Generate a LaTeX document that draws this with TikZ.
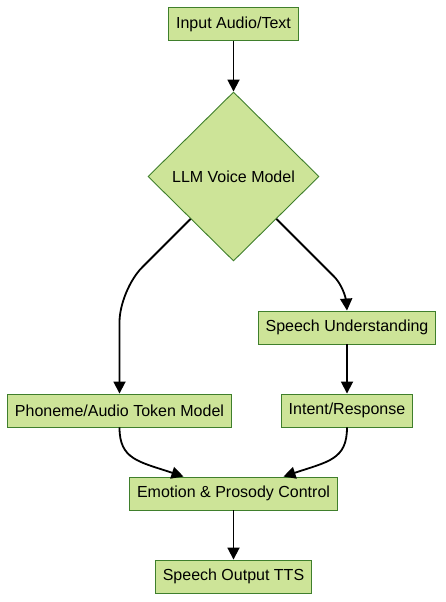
\documentclass[tikz,border=0pt]{standalone}
\usepackage{fontspec}
\setmainfont{Liberation Sans}
\usetikzlibrary{shapes.geometric,arrows.meta}
\definecolor{boxfill}{HTML}{CDE498}
\definecolor{boxline}{HTML}{3F7F2C}

\tikzset{
  box/.style={draw=boxline, fill=boxfill, line width=0.9pt, inner xsep=7.5pt,
    minimum height=33pt, font=\fontsize{16}{18}\selectfont},
  decision/.style={diamond, aspect=1, draw=boxline, fill=boxfill, line width=0.9pt,
    inner sep=0pt, minimum width=171pt, minimum height=169pt, font=\fontsize{16}{18}\selectfont},
  flow/.style={->, line width=1.8pt}
}

\begin{document}
\begin{tikzpicture}[x=1pt,y=-1pt,>={Triangle[length=12pt,width=12pt]}]
\useasboundingbox (0,0) rectangle (445,602);

\node[box] (input) at (233.5,24) {Input Audio/Text};
\node[decision] (llm) at (233.5,176.5) {LLM Voice Model};
\node[box] (understand) at (347,327.5) {Speech Understanding};
\node[box] (phoneme) at (119.5,410.5) {Phoneme/Audio Token Model};
\node[box] (intent) at (347,410.5) {Intent/Response};
\node[box] (emotion) at (233.5,493.5) {Emotion \& Prosody Control};
\node[box] (tts) at (233.5,576.5) {Speech Output TTS};

\draw[flow] (input) -- (llm);
\draw[flow, rounded corners=32pt] (llm.south west) -- ++(-71,71) -- (phoneme.north);
\draw[flow, rounded corners=16pt] (llm.south east) -- ++(69,69) -- (understand.north);
\draw[flow] (understand) -- (intent);
\draw[flow] (phoneme.south) .. controls +(0,32) and +(-45,-15) .. ([xshift=-50pt]emotion.north);
\draw[flow] (intent.south) .. controls +(0,32) and +(45,-15) .. ([xshift=50pt]emotion.north);
\draw[flow] (emotion) -- (tts);
\end{tikzpicture}
\end{document}
